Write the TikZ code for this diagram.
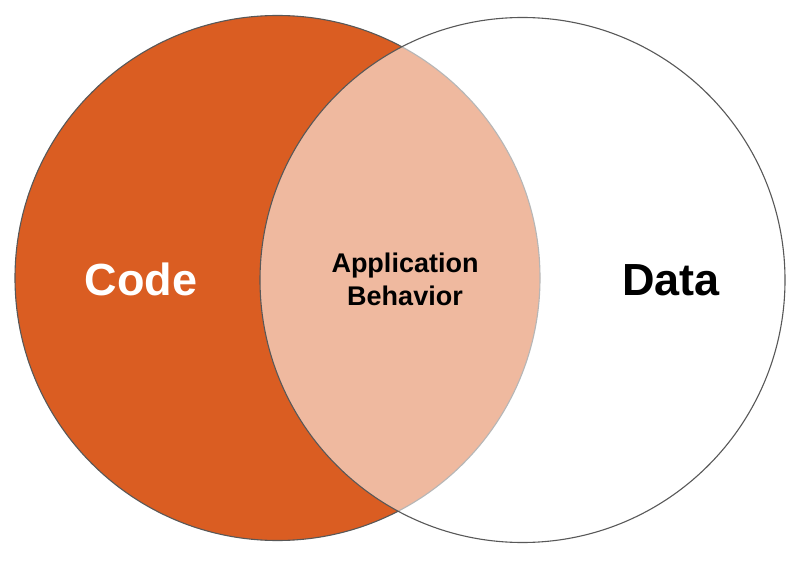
\documentclass[tikz,border=0pt]{standalone}
\usepackage{fontspec}
\setmainfont{Liberation Sans}
\usetikzlibrary{positioning}
\definecolor{codeorange}{HTML}{DA5D22}
\definecolor{ringline}{HTML}{585858}

\begin{document}
\begin{tikzpicture}[x=1pt,y=-1pt,
 ring/.style={draw=ringline,line width=1.1pt,circle,minimum size=525pt,inner sep=0pt},
 biglabel/.style={font=\fontsize{45}{50}\selectfont\bfseries,anchor=base}]
\useasboundingbox (0,0) rectangle (802,561);
\node[ring,fill=codeorange] (code) at (277.5,278) {};
\node[ring,fill=white,fill opacity=0.57] (data) at (522.5,280) {};
\node[biglabel,white] (codetext) at (141,295) {Code};
\node[biglabel,black] (datatext) at (671,295) {Data};
\node[font=\fontsize{27}{33}\selectfont\bfseries,align=center] (behavior) at (405,279) {Application\\Behavior};
\end{tikzpicture}
\end{document}
